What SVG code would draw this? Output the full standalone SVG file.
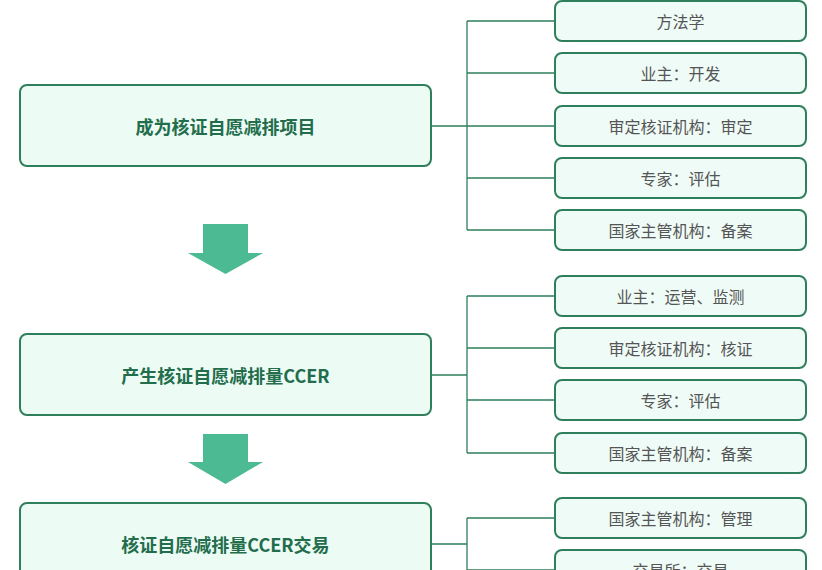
<svg xmlns="http://www.w3.org/2000/svg" width="822" height="570" viewBox="0 0 822 570">
<style>
.main rect{fill:#edfbf5;stroke:#2f7f5c;stroke-width:2}
.main text{font-family:"Noto Sans CJK SC","Noto Sans",sans-serif;font-size:18px;font-weight:bold;fill:#226d4b;text-anchor:middle;dominant-baseline:central}
.sub rect{fill:#effbf6;stroke:#2f7f5c;stroke-width:2}
.sub text{font-family:"Noto Sans CJK SC","Noto Sans",sans-serif;font-size:16px;fill:#555;text-anchor:middle;dominant-baseline:central}
.conn{fill:none;stroke:#2f7f5c;stroke-width:1.3}
.arrow{fill:#4cba92}
</style>
<rect width="822" height="570" fill="#fff"/>
<g id="connectors" class="conn">
<path d="M432 126H467M467 21V230M467 21H555M467 73H555M467 126H555M467 178H555M467 230H555"/>
<path d="M432 375H467M467 296V453M467 296H555M467 348H555M467 400H555M467 453H555"/>
<path d="M432 544H467M467 518V580M467 518H555M467 570H555"/>
</g>
<g id="arrow1" class="arrow"><polygon points="203,224 248,224 248,253 263,253 225.5,274 188,253 203,253"/></g>
<g id="arrow2" class="arrow"><polygon points="203,434 248,434 248,462 263,462 225.5,484 188,462 203,462"/></g>
<g id="m1" class="main"><rect x="20" y="85" width="411" height="81" rx="7"/><text x="225.5" y="126">成为核证自愿减排项目</text></g>
<g id="m2" class="main"><rect x="20" y="334" width="411" height="81" rx="7"/><text x="225.5" y="375">产生核证自愿减排量CCER</text></g>
<g id="m3" class="main"><rect x="20" y="503" width="411" height="81" rx="7"/><text x="225.5" y="544">核证自愿减排量CCER交易</text></g>
<g id="s1" class="sub"><rect x="555" y="1" width="251" height="40" rx="7"/><text x="680.5" y="21">方法学</text></g>
<g id="s2" class="sub"><rect x="555" y="53" width="251" height="40" rx="7"/><text x="680.5" y="73">业主：开发</text></g>
<g id="s3" class="sub"><rect x="555" y="106" width="251" height="40" rx="7"/><text x="680.5" y="126">审定核证机构：审定</text></g>
<g id="s4" class="sub"><rect x="555" y="158" width="251" height="40" rx="7"/><text x="680.5" y="178">专家：评估</text></g>
<g id="s5" class="sub"><rect x="555" y="210" width="251" height="40" rx="7"/><text x="680.5" y="230">国家主管机构：备案</text></g>
<g id="s6" class="sub"><rect x="555" y="276" width="251" height="40" rx="7"/><text x="680.5" y="296">业主：运营、监测</text></g>
<g id="s7" class="sub"><rect x="555" y="328" width="251" height="40" rx="7"/><text x="680.5" y="348">审定核证机构：核证</text></g>
<g id="s8" class="sub"><rect x="555" y="380" width="251" height="40" rx="7"/><text x="680.5" y="400">专家：评估</text></g>
<g id="s9" class="sub"><rect x="555" y="433" width="251" height="40" rx="7"/><text x="680.5" y="453">国家主管机构：备案</text></g>
<g id="s10" class="sub"><rect x="555" y="498" width="251" height="40" rx="7"/><text x="680.5" y="518">国家主管机构：管理</text></g>
<g id="s11" class="sub"><rect x="555" y="550" width="251" height="40" rx="7"/><text x="680.5" y="570">交易所：交易</text></g>
</svg>
